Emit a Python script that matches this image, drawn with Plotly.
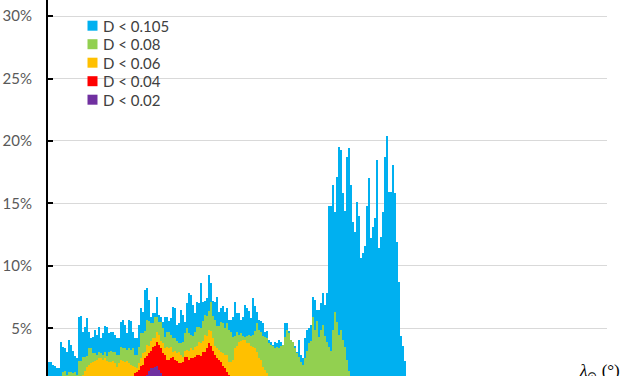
import plotly.graph_objects as go

# bin index along solar longitude axis (one bar per bin)
bins = list(range(179))

d0105 = [2.3,2.3,2.1,2.0,1.8,1.8,3.9,3.5,3.4,3.1,
         4.1,3.7,3.2,2.8,2.6,5.9,6.0,4.7,5.1,5.8,
         4.7,4.2,4.3,4.9,4.5,5.1,4.2,4.6,5.2,5.1,
         4.6,4.7,4.7,4.5,4.2,4.2,5.5,5.7,5.3,4.6,
         5.7,5.6,4.7,4.2,4.2,5.3,6.6,6.3,8.1,8.2,
         7.3,5.9,6.2,6.2,7.5,6.1,5.9,5.5,5.9,5.9,
         5.6,5.8,6.7,6.6,5.3,5.4,6.5,6.1,5.5,7.0,
         7.8,7.7,6.9,6.2,7.1,7.0,8.6,7.1,7.2,7.4,
         9.3,8.6,7.2,7.1,7.5,6.3,6.6,6.8,6.3,6.6,
         5.7,5.7,5.9,7.1,6.2,6.2,5.7,5.9,6.9,6.6,
         6.4,5.8,7.4,6.8,6.3,5.7,5.6,5.4,4.7,4.8,
         4.1,3.9,3.7,3.9,3.8,4.1,3.9,3.7,5.4,5.4,
         4.8,4.1,3.8,3.6,3.1,4.1,2.9,2.6,4.2,4.9,
         5.0,5.3,7.5,7.3,6.5,6.5,7.0,7.8,6.9,7.8,
         14.8,14.8,16.5,14.3,17.1,19.5,19.3,15.8,14.4,18.7,
         19.4,16.5,13.5,12.7,15.1,14.0,10.6,11.0,11.6,14.8,
         17.0,12.2,13.1,13.8,18.5,11.4,12.3,14.3,18.7,20.4,
         15.9,15.9,18.1,15.8,11.9,8.7,4.4,3.6,2.4]

d008 = [0.8,0.8,0.8,0.8,0.8,0.8,0.9,1.5,1.6,1.3,
        1.5,1.5,1.4,1.5,1.3,2.4,2.4,2.7,2.7,2.8,
        3.4,3.4,3.0,3.0,2.9,3.1,3.0,2.9,3.1,2.8,
        3.1,3.2,3.1,3.1,2.9,2.9,3.5,3.4,3.4,3.3,
        3.4,3.3,3.4,2.9,2.9,3.5,4.6,4.6,4.8,5.7,
        5.6,5.4,5.4,5.9,5.9,5.5,5.5,5.0,4.3,4.7,
        4.7,4.5,4.2,4.2,4.0,3.8,3.8,3.9,4.6,5.0,
        4.6,4.5,4.4,4.7,5.1,5.1,5.0,5.6,6.1,6.0,
        6.4,7.1,6.0,5.7,5.2,5.2,5.5,5.4,5.0,5.4,
        4.9,4.7,4.3,4.4,4.7,4.5,4.6,4.4,4.3,4.4,
        4.5,4.4,4.5,4.8,5.4,4.9,4.7,4.4,4.3,4.2,
        3.8,3.7,3.6,3.4,3.5,3.4,3.6,3.7,4.3,4.9,
        4.6,4.1,3.9,3.4,3.0,2.7,2.3,2.1,2.6,3.2,
        3.8,4.0,5.9,4.9,5.6,4.3,4.9,5.3,4.4,3.9,
        3.5,3.2,4.9,6.3,5.5,4.5,4.9,4.1,3.5,2.5,
        1.6,0.5,0,0,0,0,0,0,0,0,
        0,0,0,0,0,0,0,0,0,0,
        0,0,0,0,0,0,0,0,0]

d006 = [0,0,0,0,0,0,0,0,0,0,
        0,0,0,0,0,1.0,1.2,1.3,1.6,1.9,
        2.1,2.2,2.3,2.4,2.5,2.6,2.6,2.5,2.6,2.4,
        2.3,2.3,2.4,2.2,1.9,2.2,2.5,2.4,2.3,2.4,
        2.2,2.1,2.0,1.9,1.8,2.2,2.6,3.0,3.1,3.7,
        3.6,4.0,4.2,4.2,4.7,4.5,4.0,3.8,3.4,3.5,
        3.4,3.5,3.1,3.2,3.0,3.1,2.9,2.7,3.2,3.3,
        3.2,3.4,3.3,3.5,3.6,3.9,3.8,4.0,4.5,4.4,
        4.9,4.8,4.2,3.6,3.4,3.3,3.1,3.0,2.9,2.9,
        2.3,2.3,2.5,3.4,3.6,3.9,4.0,4.1,4.1,3.8,
        3.8,3.6,3.5,3.4,3.1,2.6,2.5,1.9,1.7,1.4,
        1.2,0.5,0,0,0,0,0,0,0,0,
        0,0,0,0,0,0,0,0,0,0,
        0,0,0,0,0,0,0,0,0,0,
        0,0,0,0,0,0,0,0,0,0,
        0,0,0,0,0,0,0,0,0,0,
        0,0,0,0,0,0,0,0,0,0,
        0,0,0,0,0,0,0,0,0]

d004 = [0,0,0,0,0,0,0,0,0,0,
        0,0,0,0,0,0,0,0,0,0,
        0,0,0,0,0,0,0,0,0,0,
        0,0,0,0,0,0,0,0,0,0,
        0,0,0,1.4,1.5,1.7,2.0,2.1,2.6,2.8,
        3.0,3.2,3.5,3.6,3.9,3.7,3.4,3.0,2.9,2.5,
        2.5,2.6,2.7,2.5,2.4,2.2,2.2,2.3,2.7,2.7,
        2.5,2.6,2.6,2.7,2.9,2.9,2.8,3.1,3.1,3.4,
        3.8,3.6,3.2,2.9,2.6,2.5,2.3,2.0,1.8,1.5,
        1.3,0.5,0,0,0,0,0,0,0,0,
        0,0,0,0,0,0,0,0,0,0,
        0,0,0,0,0,0,0,0,0,0,
        0,0,0,0,0,0,0,0,0,0,
        0,0,0,0,0,0,0,0,0,0,
        0,0,0,0,0,0,0,0,0,0,
        0,0,0,0,0,0,0,0,0,0,
        0,0,0,0,0,0,0,0,0,0,
        0,0,0,0,0,0,0,0,0]

d002 = [0,0,0,0,0,0,0,0,0,0,
        0,0,0,0,0,0,0,0,0,0,
        0,0,0,0,0,0,0,0,0,0,
        0,0,0,0,0,0,0,0,0,0,
        0,0,0,0,0,0,0,0,0.5,1.3,
        1.6,1.8,1.8,1.9,2.0,1.7,1.4,1.2,0.5,0,
        0,0,0,0,0,0,0,0,0,0,
        0,0,0,0,0,0,0,0,0,0,
        0,0,0,0,0,0,0,0,0,0,
        0,0,0,0,0,0,0,0,0,0,
        0,0,0,0,0,0,0,0,0,0,
        0,0,0,0,0,0,0,0,0,0,
        0,0,0,0,0,0,0,0,0,0,
        0,0,0,0,0,0,0,0,0,0,
        0,0,0,0,0,0,0,0,0,0,
        0,0,0,0,0,0,0,0,0,0,
        0,0,0,0,0,0,0,0,0,0,
        0,0,0,0,0,0,0,0,0]

series_names = ["D < 0.105", "D < 0.08", "D < 0.06", "D < 0.04", "D < 0.02"]
series_values = [d0105, d008, d006, d004, d002]
series_colors = ["#00B0F0", "#92D050", "#FFC000", "#FF0000", "#7030A0"]

y_ticks = [5, 10, 15, 20, 25, 30]
y_tick_labels = ["5%", "10%", "15%", "20%", "25%", "30%"]

W, H = 627, 376
ML, MR = 48, 20
PW = W - ML - MR

fig = go.Figure()
for name, vals, col in zip(series_names, series_values, series_colors):
    fig.add_trace(go.Bar(x=bins, y=vals, name=name, showlegend=False,
                         marker=dict(color=col, line=dict(width=0))))

# manual legend (Excel-style compact rows)
for k, (name, col) in enumerate(zip(series_names, series_colors)):
    yc = 25.7 + 18.5 * k          # row centre, px from top
    fig.add_shape(type="rect", xref="paper", yref="paper",
                  x0=(87.5 - ML) / PW, x1=(97.5 - ML) / PW,
                  y0=1 - (yc + 5) / H, y1=1 - (yc - 5) / H,
                  fillcolor=col, line=dict(width=0), layer="above")
    fig.add_annotation(text=name, xref="paper", yref="paper",
                       x=(101 - ML) / PW, y=1 - yc / H, xanchor="left", yanchor="middle",
                       showarrow=False,
                       font=dict(family="Lato, 'Liberation Sans', sans-serif", size=15, color="#404040"))

fig.update_layout(
    width=W, height=H,
    margin=dict(l=ML, r=MR, t=0, b=0, autoexpand=False),
    paper_bgcolor="white", plot_bgcolor="white",
    barmode="overlay", bargap=0,
    font=dict(family="Lato, 'Liberation Sans', sans-serif", size=15, color="#595959"),
    showlegend=False,
)
fig.update_xaxes(range=[-0.5, 279], showticklabels=False, showgrid=False,
                 zeroline=False, showline=False, ticks="", automargin=False)
fig.update_yaxes(range=[1.18, 31.29], tickvals=y_ticks, ticktext=y_tick_labels,
                 showgrid=True, gridcolor="#D9D9D9", gridwidth=1,
                 zeroline=False, showline=True, linecolor="#000000", linewidth=2,
                 ticks="inside", ticklen=5, tickwidth=2, tickcolor="#000000",
                 ticklabelstandoff=11, automargin=False)

fig.add_annotation(text="<i>λ</i><sub>⊙</sub> (°)", xref="paper", yref="paper",
                   x=(577 - ML) / PW, y=1 - 359 / H, xanchor="left", yanchor="top", showarrow=False,
                   font=dict(family="'Liberation Serif', serif", size=17, color="#000000"))

fig.write_html("out.html",
               config={"displayModeBar": False},
               post_script="document.body.style.margin='0';document.body.style.padding='0';"
                           "document.body.style.overflow='hidden';")
